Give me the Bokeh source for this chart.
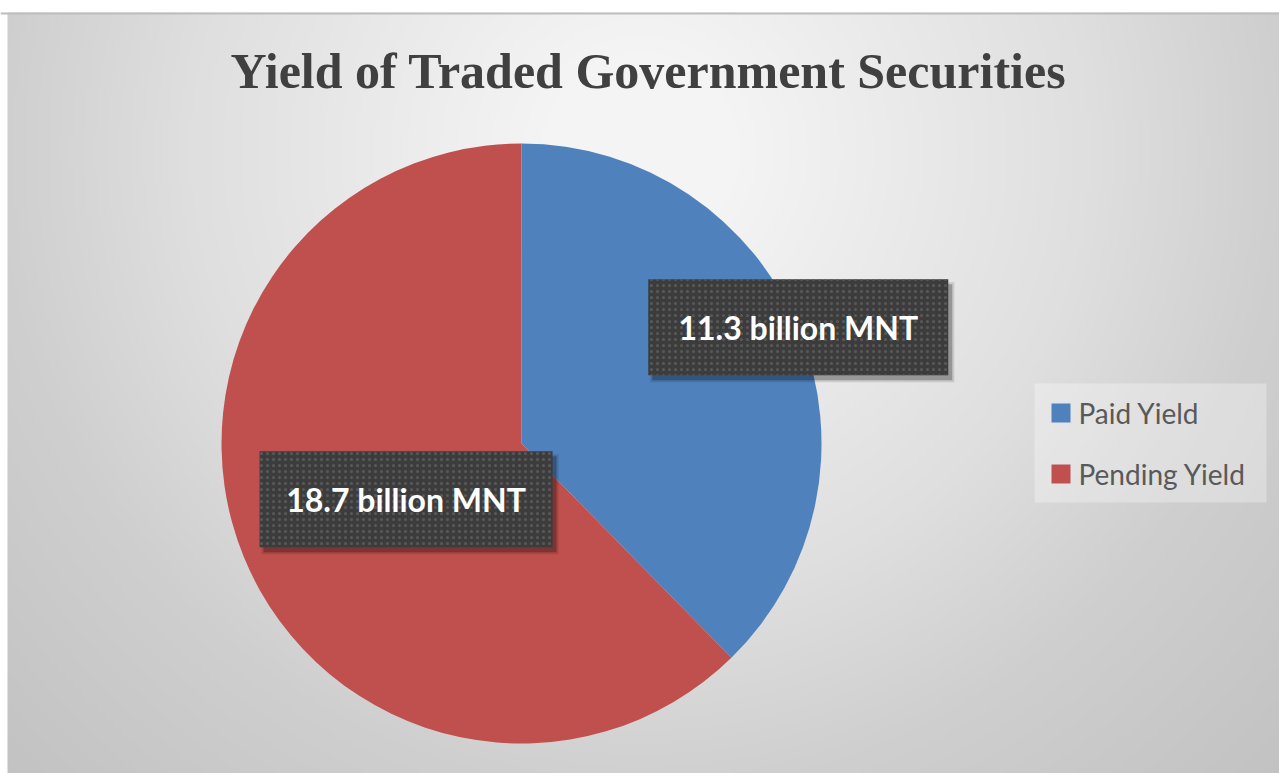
import numpy as np
from math import pi, cos, sin
from bokeh.plotting import figure
from bokeh.models import ColumnDataSource, Range1d, Span
from bokeh.core.properties import value
from bokeh.embed import file_html
from bokeh.resources import INLINE

# ---- data ----
categories = ["Paid Yield", "Pending Yield"]
values = [11.3, 18.7]
value_labels = ["11.3 billion MNT", "18.7 billion MNT"]
colors = ["#4F81BD", "#C0504D"]
title_text = "Yield of Traded Government Securities"

# ---- layout ----
W, H = 1279, 773
p = figure(width=W, height=H, x_range=Range1d(0, W), y_range=Range1d(0, H),
           output_backend="svg", toolbar_location=None, min_border=0,
           border_fill_color="white", background_fill_color="white",
           outline_line_color=None)
p.axis.visible = False
p.grid.visible = False

# background radial gradient (chart area)
step = 3
x0, top = 7, 761
xs = np.arange(x0, W, step) + step / 2
ys = np.arange(0, top, step) + step / 2
XX, YY = np.meshgrid(xs, ys)
py = H - YY
d = np.sqrt((XX - 640) ** 2 + (py - 150) ** 2)
v = np.interp(d, [0, 100, 450, 640, 900, 1100], [245, 244, 223, 207, 194, 190]).astype(np.uint8)
img = np.empty(v.shape, dtype=np.uint32)
view = img.view(dtype=np.uint8).reshape(v.shape + (4,))
view[..., 0] = v
view[..., 1] = v
view[..., 2] = v
view[..., 3] = 255
p.image_rgba(image=[img], x=x0, y=0, dw=W - x0, dh=top)
p.add_layout(Span(location=top - 1, dimension="width", line_color="#bdbdbd", line_width=2))

# pie
cx, cy, R = 521, 330, 300
total = sum(values)
cum = np.cumsum([0] + values) / total
starts = [pi / 2 - 2 * pi * cum[i + 1] for i in range(len(values))]
ends = [pi / 2 - 2 * pi * cum[i] for i in range(len(values))]
src = ColumnDataSource(dict(category=categories, value=values, start=starts, end=ends, color=colors))
wr = p.wedge(x=cx, y=cy, radius=R, start_angle="start", end_angle="end",
             fill_color="color", line_color=None, source=src)

# data labels
rfac = [1.0, 0.43]
nudge_x = [-1, 4]
nudge_y = [3, -7]
box_w = [300, 293]
box_h = 96
mids = [(s + e) / 2 for s, e in zip(starts, ends)]
lx = [cx + R * f * cos(m) + nx for f, m, nx in zip(rfac, mids, nudge_x)]
ly = [cy + R * f * sin(m) + ny for f, m, ny in zip(rfac, mids, nudge_y)]
lsrc = ColumnDataSource(dict(x=lx, y=ly, w=box_w, text=value_labels,
                             sx=[x + 4 for x in lx], sy=[y - 5 for y in ly],
                             sw=[w + 4 for w in box_w]))
p.rect(x="sx", y="sy", width="sw", height=box_h + 4, fill_color="black", fill_alpha=0.12, line_color=None, source=lsrc)
p.rect(x="sx", y="sy", width="w", height=box_h, fill_color="black", fill_alpha=0.25, line_color=None, source=lsrc)
p.rect(x="x", y="y", width="w", height=box_h, fill_color="#3c3c3c", line_color=None,
       hatch_pattern="dot", hatch_color="#5c5c5c", hatch_scale=6, hatch_alpha=0.9, source=lsrc)
p.text(x="x", y="y", text="text", text_font=value("Lato"), text_font_style="bold",
       text_font_size="32px", text_color="white", text_align="center", text_baseline="middle", source=lsrc)

# title
p.text(x=[648], y=[703], text=[title_text], text_font=value("Liberation Serif"), text_font_style="bold",
       text_font_size="50px", text_color="#404040", text_align="center", text_baseline="middle")

# legend (drawn as glyphs)
leg_left, leg_top, leg_w, leg_h = 1034, 383, 232, 119
p.rect(x=[leg_left + leg_w / 2], y=[H - leg_top - leg_h / 2], width=leg_w, height=leg_h,
       fill_color="white", fill_alpha=0.3, line_color=None)
row_y = [H - 412.5 - 61 * i for i in range(len(categories))]
lgsrc = ColumnDataSource(dict(y=row_y, label=categories, color=colors))
p.rect(x=1060.5, y="y", width=19, height=19, fill_color="color", line_color=None, source=lgsrc)
p.text(x=1078, y="y", text="label", text_font=value("Lato"), text_font_size="28px",
       text_color="#595959", text_align="left", text_baseline="middle", source=lgsrc)

open("out.html", "w").write(file_html(p, INLINE))
